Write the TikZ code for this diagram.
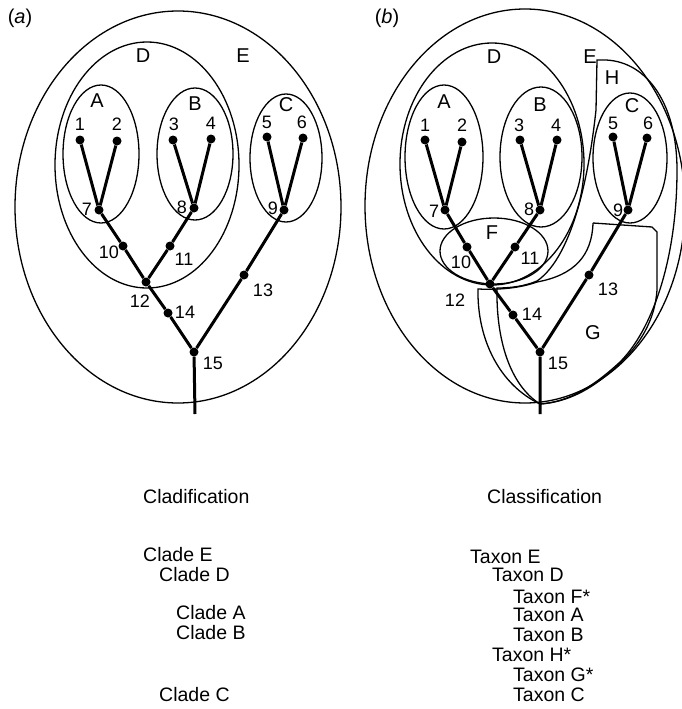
\documentclass[tikz,border=0pt]{standalone}
\usepackage{fontspec}
\setmainfont{Liberation Sans}
\usetikzlibrary{positioning}

\begin{document}
\begin{tikzpicture}[
    x=1pt, y=-1pt,
    ring/.style={line width=1.3pt},
    branch/.style={line width=3pt},
    dot/.style={circle, fill, inner sep=0pt, minimum size=9pt},
    num/.style={font=\fontsize{18}{20}\selectfont, inner sep=0pt},
    grp/.style={font=\fontsize{20}{22}\selectfont, inner sep=0pt},
    entry/.style={font=\fontsize{19.5}{22}\selectfont, inner sep=0pt, anchor=west},
]
\useasboundingbox (0,0) rectangle (681,709);

% (a) cladogram
\node[grp] (pa) at (20,18) {(\textit{a})};
\draw[ring] (178,207) ellipse [x radius=163, y radius=196];
\draw[ring] (147,165) ellipse [x radius=92, y radius=123];
\draw[ring] (101,154) ellipse [x radius=38, y radius=69];
\draw[ring] (195,154) ellipse [x radius=38, y radius=66];
\draw[ring] (286,158) ellipse [x radius=36, y radius=64];
\node[grp] (aD) at (143,56) {D};
\node[grp] (aE) at (243,56) {E};
\node[grp] (aA) at (97,101) {A};
\node[grp] (aB) at (195,104) {B};
\node[grp] (aC) at (286,105) {C};

\node[dot] (a1) at (80,140) {};
\node[dot] (a2) at (117,141) {};
\node[dot] (a3) at (173,140) {};
\node[dot] (a4) at (211,139) {};
\node[dot] (a5) at (267,137) {};
\node[dot] (a6) at (303,138) {};
\node[dot] (a7) at (99,210) {};
\node[dot] (a8) at (194,208) {};
\node[dot] (a9) at (284,210) {};
\node[dot] (a10) at (123,246) {};
\node[dot] (a11) at (170,246) {};
\node[dot] (a12) at (146,282) {};
\node[dot] (a13) at (244,275) {};
\node[dot] (a14) at (168,313) {};
\node[dot] (a15) at (194,352) {};
\coordinate (aR) at (195,414);
\draw[branch] (a1) -- (a7) -- (a10) -- (a12) -- (a14) -- (a15) -- (aR);
\draw[branch] (a2) -- (a7);
\draw[branch] (a3) -- (a8) -- (a11) -- (a12);
\draw[branch] (a4) -- (a8);
\draw[branch] (a5) -- (a9) -- (a13) -- (a15);
\draw[branch] (a6) -- (a9);
\node[num] (la1) at (80,124) {1};
\node[num] (la2) at (117,124) {2};
\node[num] (la3) at (174,124) {3};
\node[num] (la4) at (211,123) {4};
\node[num] (la5) at (267,122) {5};
\node[num] (la6) at (302,122) {6};
\node[num] (la7) at (87,209) {7};
\node[num] (la8) at (182,207) {8};
\node[num] (la9) at (273,208) {9};
\node[num] (la10) at (109,252) {10};
\node[num] (la11) at (184,259) {11};
\node[num] (la12) at (140,301) {12};
\node[num] (la13) at (263,290) {13};
\node[num] (la14) at (185,312) {14};
\node[num] (la15) at (213,363) {15};

% (b) classification
\node[grp] (pb) at (387,18) {(\textit{b})};
\draw[ring] (525,206) ellipse [x radius=160, y radius=197];
\draw[ring] (492,164) ellipse [x radius=92, y radius=121];
\draw[ring] (444,157) ellipse [x radius=39, y radius=72];
\draw[ring] (541,157) ellipse [x radius=41, y radius=70];
\draw[ring] (630,158) ellipse [x radius=37, y radius=65];
\draw[ring] (494,251) ellipse [x radius=54, y radius=33];
% H
\draw[ring] (597,60) -- (606,60)
  .. controls (648,62) and (677,105) .. (677,170)
  .. controls (677,260) and (652,330) .. (620,362)
  .. controls (595,385) and (570,402) .. (540,404)
  .. controls (510,385) and (496,340) .. (497,288)
  .. controls (512,288) and (525,286) .. (537,281)
  .. controls (575,255) and (590,165) .. (596,110) -- cycle;
% G
\draw[ring] (593,223) -- (652,227) -- (657,232) -- (657,290)
  .. controls (655,320) and (640,345) .. (618,365)
  .. controls (595,387) and (570,402) .. (540,404)
  .. controls (500,385) and (477,340) .. (478,289)
  .. controls (500,290) and (520,288) .. (537,282)
  .. controls (575,275) and (592,255) .. (593,223);
\node[grp] (bD) at (494,57) {D};
\node[grp] (bE) at (590,57) {E};
\node[grp] (bH) at (612,78) {H};
\node[grp] (bA) at (444,102) {A};
\node[grp] (bB) at (540,105) {B};
\node[grp] (bC) at (632,106) {C};
\node[grp] (bF) at (492,233) {F};
\node[grp] (bG) at (593,333) {G};

\node[dot] (b1) at (425,140) {};
\node[dot] (b2) at (462,142) {};
\node[dot] (b3) at (520,140) {};
\node[dot] (b4) at (557,140) {};
\node[dot] (b5) at (613,137) {};
\node[dot] (b6) at (647,138) {};
\node[dot] (b7) at (445,210) {};
\node[dot] (b8) at (540,210) {};
\node[dot] (b9) at (628,210) {};
\node[dot] (b10) at (467,247) {};
\node[dot] (b11) at (515,247) {};
\node[dot] (b12) at (490,284) {};
\node[dot] (b13) at (589,275) {};
\node[dot] (b14) at (513,315) {};
\node[dot] (b15) at (540,352) {};
\coordinate (bR) at (540,414);
\draw[branch] (b1) -- (b7) -- (b10) -- (b12) -- (b14) -- (b15) -- (bR);
\draw[branch] (b2) -- (b7);
\draw[branch] (b3) -- (b8) -- (b11) -- (b12);
\draw[branch] (b4) -- (b8);
\draw[branch] (b5) -- (b9) -- (b13) -- (b15);
\draw[branch] (b6) -- (b9);
\node[num] (lb1) at (425,125) {1};
\node[num] (lb2) at (462,125) {2};
\node[num] (lb3) at (519,125) {3};
\node[num] (lb4) at (556,125) {4};
\node[num] (lb5) at (613,123) {5};
\node[num] (lb6) at (648,123) {6};
\node[num] (lb7) at (434,211) {7};
\node[num] (lb8) at (529,209) {8};
\node[num] (lb9) at (618,210) {9};
\node[num] (lb10) at (461,262) {10};
\node[num] (lb11) at (530,258) {11};
\node[num] (lb12) at (455,300) {12};
\node[num] (lb13) at (608,289) {13};
\node[num] (lb14) at (532,314) {14};
\node[num] (lb15) at (558,363) {15};

% lists
\node[entry] (tcl) at (143,497) {Cladification};
\node[entry] (cE) at (143,555) {Clade E};
\node[entry] (cD) at (159,575) {Clade D};
\node[entry] (cA) at (176,613) {Clade A};
\node[entry] (cB) at (176,633) {Clade B};
\node[entry] (cC) at (159,695) {Clade C};
\node[entry] (tcs) at (487,497) {Classification};
\node[entry] (xE) at (470,557) {Taxon E};
\node[entry] (xD) at (492,575) {Taxon D};
\node[entry] (xF) at (513,597) {Taxon F*};
\node[entry] (xA) at (513,615) {Taxon A};
\node[entry] (xB) at (513,635) {Taxon B};
\node[entry] (xH) at (492,655) {Taxon H*};
\node[entry] (xG) at (513,675) {Taxon G*};
\node[entry] (xC) at (513,695) {Taxon C};
\end{tikzpicture}
\end{document}
